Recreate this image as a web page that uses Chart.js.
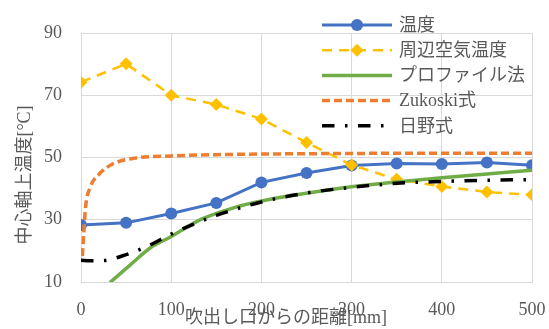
<!DOCTYPE html>
<html>
<head>
<meta charset="utf-8">
<script src="https://cdn.jsdelivr.net/npm/chart.js@4"></script>
<style>
  html, body { margin: 0; padding: 0; background: #ffffff; }
  #c { display: block; }
</style>
</head>
<body>
<canvas id="c" width="549" height="329"></canvas>
<script>
// Measured centre-line temperature and surrounding air temperature, every 50 mm
const distances   = [0, 50, 100, 150, 200, 250, 300, 350, 400, 450, 500];
const centerTemp  = [28.3, 29.0, 32.0, 35.4, 42.0, 45.0, 47.4, 48.1, 47.9, 48.4, 47.5];
const ambientTemp = [74.2, 80.1, 70.0, 67.0, 62.4, 54.8, 47.6, 43.0, 40.7, 38.9, 38.0];

// Profile method estimate
const profileX = [32, 55, 77, 100, 133, 170, 200, 250, 300, 350, 400, 450, 500];
const profileY = [9.8, 15.6, 21.0, 24.6, 30.1, 33.9, 36.0, 38.5, 40.6, 42.1, 43.5, 44.7, 45.9];

// Zukoski formula
const zukoskiX = [1.5, 3, 5, 10, 20, 35, 60, 100, 150, 200, 300, 400, 500];
const zukoskiY = [18.3, 25.3, 33.9, 40.3, 44.6, 47.9, 49.8, 50.5, 50.9, 51.1, 51.3, 51.4, 51.4];

// Hino formula
const hinoX = [0, 10, 25, 50, 75, 100, 125, 150, 200, 250, 300, 350, 400, 450, 500];
const hinoY = [17.0, 16.8, 16.9, 18.8, 21.7, 25.4, 28.6, 31.4, 35.7, 38.6, 40.4, 41.7, 42.3, 42.7, 42.9];

const seriesNames = ['温度', '周辺空気温度', 'プロファイル法', 'Zukoski式', '日野式'];
const xTitle = '吹出し口からの距離[mm]';
const yTitle = '中心軸上温度[°C]';

const xRange = { min: 0, max: 500, step: 100 };
const yRange = { min: 10, max: 90, step: 20 };

const pairs = (xs, ys) => xs.map((x, i) => ({ x: x, y: ys[i] }));

const FONT = '"Liberation Serif", "Noto Sans CJK JP", serif';
const TEXT = '#595959';
const GRID = '#d9d9d9';

// Legend block drawn inside the upper right corner of the plot
const legendPlugin = {
  id: 'lineLegend',
  afterDraw(chart) {
    const ctx = chart.ctx;
    const x0 = 322, x1 = 392, tx = 399, y0 = 25, step = 25.2;
    chart.data.datasets.forEach((ds, i) => {
      const y = y0 + i * step;
      ctx.save();
      ctx.strokeStyle = ds.borderColor;
      ctx.lineWidth = ds.borderWidth;
      ctx.lineCap = ds.borderCapStyle || 'butt';
      ctx.setLineDash(ds.borderDash || []);
      ctx.beginPath();
      ctx.moveTo(x0, y);
      ctx.lineTo(x1, y);
      ctx.stroke();
      ctx.setLineDash([]);
      if (ds.pointRadius > 0) {
        const cx = (x0 + x1) / 2, r = ds.pointRadius;
        ctx.fillStyle = ds.pointBackgroundColor;
        ctx.beginPath();
        if (ds.pointStyle === 'rectRot') {
          ctx.moveTo(cx, y - r); ctx.lineTo(cx + r, y); ctx.lineTo(cx, y + r); ctx.lineTo(cx - r, y);
          ctx.closePath();
        } else {
          ctx.arc(cx, y, r, 0, Math.PI * 2);
        }
        ctx.fill();
      }
      ctx.fillStyle = TEXT;
      ctx.font = '18px ' + FONT;
      ctx.textBaseline = 'middle';
      ctx.textAlign = 'left';
      ctx.fillText(ds.label, tx, y + 1);
      ctx.restore();
    });

    // Axis titles
    ctx.save();
    ctx.fillStyle = TEXT;
    ctx.font = '18px ' + FONT;
    ctx.textAlign = 'center';
    ctx.textBaseline = 'middle';
    ctx.fillText(xTitle, 286, 318);
    ctx.translate(25, 175);
    ctx.rotate(-Math.PI / 2);
    ctx.fillText(yTitle, 0, 0);
    ctx.restore();
  }
};

new Chart(document.getElementById('c'), {
  type: 'line',
  data: {
    datasets: [
      {
        label: seriesNames[0],
        data: pairs(distances, centerTemp),
        borderColor: '#4472c4', backgroundColor: '#4472c4',
        borderWidth: 3, tension: 0,
        pointStyle: 'circle', pointRadius: 6, pointBorderWidth: 0,
        pointBackgroundColor: '#4472c4', order: 5
      },
      {
        label: seriesNames[1],
        data: pairs(distances, ambientTemp),
        borderColor: '#ffc000', backgroundColor: '#ffc000',
        borderWidth: 2.5, borderDash: [10, 7], tension: 0,
        pointStyle: 'rectRot', pointRadius: 6.5, pointBorderWidth: 0,
        pointBackgroundColor: '#ffc000', order: 4
      },
      {
        label: seriesNames[2],
        data: pairs(profileX, profileY),
        borderColor: '#70ad47', backgroundColor: '#70ad47',
        borderWidth: 3.5, cubicInterpolationMode: 'monotone',
        pointRadius: 0, order: 3
      },
      {
        label: seriesNames[3],
        data: pairs(zukoskiX, zukoskiY),
        borderColor: '#ed7d31', backgroundColor: '#ed7d31',
        borderWidth: 3.5, borderDash: [8, 4], cubicInterpolationMode: 'monotone',
        pointRadius: 0, order: 2
      },
      {
        label: seriesNames[4],
        data: pairs(hinoX, hinoY),
        borderColor: '#000000', backgroundColor: '#000000',
        borderWidth: 3.5, borderDash: [12.5, 10.5, 2.5, 10.5], cubicInterpolationMode: 'monotone',
        pointRadius: 0, order: 1
      }
    ]
  },
  options: {
    responsive: false,
    animation: false,
    devicePixelRatio: 1,
    layout: { padding: { left: 0, right: 17, top: 33, bottom: 0 } },
    plugins: { legend: { display: false }, tooltip: { enabled: false } },
    scales: {
      x: {
        type: 'linear',
        min: xRange.min, max: xRange.max,
        ticks: { stepSize: xRange.step, color: TEXT, font: { family: FONT, size: 18 }, padding: 17, maxRotation: 0 },
        grid: { color: GRID, lineWidth: 1, drawTicks: false },
        border: { color: GRID, width: 1 },
        afterFit(scale) {
          scale.height = 47;
          scale.paddingLeft = 0;
          scale.paddingRight = 0;
        }
      },
      y: {
        min: yRange.min, max: yRange.max,
        ticks: { stepSize: yRange.step, color: TEXT, font: { family: FONT, size: 18 }, padding: 19 },
        grid: { color: GRID, lineWidth: 1, drawTicks: false },
        border: { color: GRID, width: 1 },
        afterFit(scale) {
          scale.width = 81;
          scale.paddingTop = 0;
          scale.paddingBottom = 0;
        }
      }
    }
  },
  plugins: [legendPlugin]
});
</script>
</body>
</html>
